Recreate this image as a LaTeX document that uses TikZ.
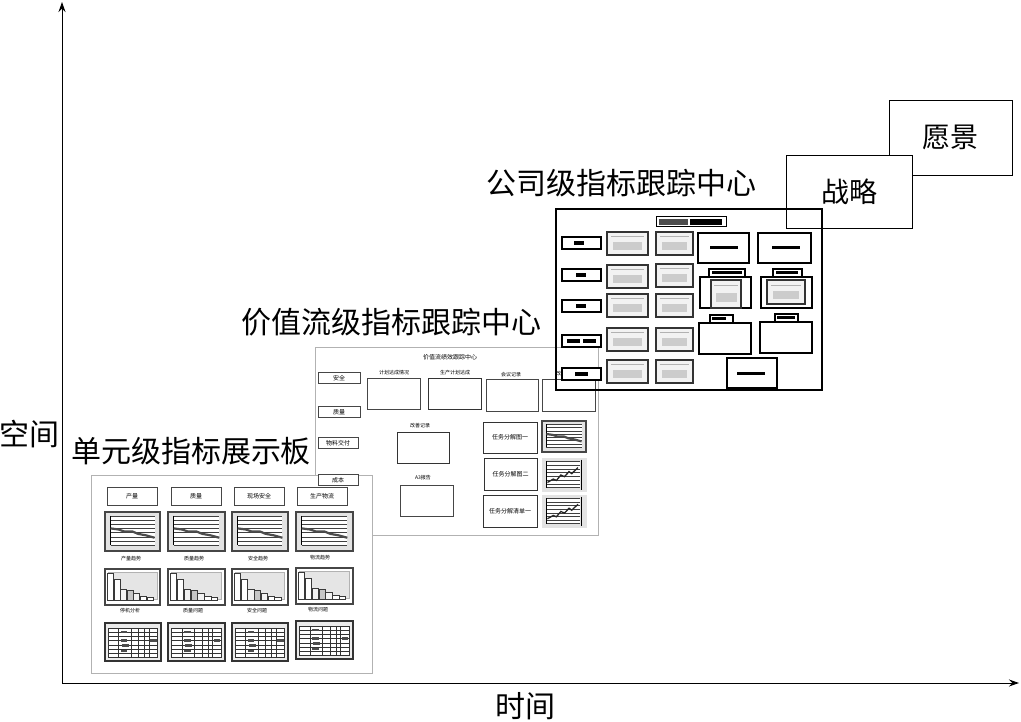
\documentclass[tikz,border=0pt]{standalone}
\usepackage{fontspec}
\newfontfamily\cjk{Noto Sans CJK SC}
\usetikzlibrary{arrows.meta}
\newcommand\lchart[4]{%
 \fill[gray!22] (#1,#2) rectangle ++(#3,#4);
 \draw[gray!55!black,line width=1.1pt] (#1,#2) rectangle ++(#3,#4);
 \fill[white] ({#1+0.1*#3},{#2+0.1*#4}) rectangle ({#1+0.9*#3},{#2+0.85*#4});
 \foreach \k in {0,...,7}{\draw[black!75,line width=0.45pt] ({#1+0.1*#3},{#2+0.1*#4+\k*0.107*#4}) -- ({#1+0.9*#3},{#2+0.1*#4+\k*0.107*#4});}
 \draw[black,line width=0.5pt] ({#1+0.1*#3},{#2+0.1*#4}) -- ({#1+0.1*#3},{#2+0.85*#4});
 \draw[gray!60!black,line width=2.2pt] ({#1+0.1*#3},{#2+0.42*#4}) -- ({#1+0.25*#3},{#2+0.45*#4}) -- ({#1+0.35*#3},{#2+0.5*#4}) -- ({#1+0.5*#3},{#2+0.5*#4}) -- ({#1+0.6*#3},{#2+0.56*#4}) -- ({#1+0.75*#3},{#2+0.6*#4}) -- ({#1+0.9*#3},{#2+0.66*#4});
}
\newcommand\rchart[4]{%
 \fill[gray!22] (#1,#2) rectangle ++(#3,#4);
 \fill[white] ({#1+0.1*#3},{#2+0.1*#4}) rectangle ({#1+0.85*#3},{#2+0.88*#4});
 \foreach \k in {0,...,7}{\draw[black!75,line width=0.45pt] ({#1+0.1*#3},{#2+0.1*#4+\k*0.11*#4}) -- ({#1+0.85*#3},{#2+0.1*#4+\k*0.11*#4});}
 \draw[black,line width=0.5pt] ({#1+0.1*#3},{#2+0.1*#4}) -- ({#1+0.1*#3},{#2+0.88*#4});
 \draw[black,line width=0.5pt] ({#1+0.88*#3},{#2+0.05*#4}) -- ({#1+0.88*#3},{#2+0.95*#4});
 \draw[gray!30!black,line width=1.3pt] ({#1+0.12*#3},{#2+0.72*#4}) -- ({#1+0.25*#3},{#2+0.62*#4}) -- ({#1+0.32*#3},{#2+0.66*#4}) -- ({#1+0.42*#3},{#2+0.5*#4}) -- ({#1+0.5*#3},{#2+0.55*#4}) -- ({#1+0.6*#3},{#2+0.4*#4}) -- ({#1+0.66*#3},{#2+0.46*#4}) -- ({#1+0.8*#3},{#2+0.28*#4});
}
\newcommand\bchart[4]{%
 \draw[gray!55!black,line width=1.1pt,fill=white] (#1,#2) rectangle ++(#3,#4);
 \filldraw[fill=gray!20,draw=gray!60,line width=0.4pt] ({#1+0.06*#3},{#2+0.1*#4}) rectangle ({#1+0.94*#3},{#2+0.85*#4});
 \foreach \i/\hh/\cc in {0/0.75/white,1/0.6/white,2/0.33/gray!10,3/0.28/gray!45,4/0.22/gray!10,5/0.12/white,6/0.09/white}{%
  \filldraw[draw=gray!45!black,line width=0.4pt,fill=\cc] ({#1+(0.04+\i*0.12)*#3},{#2+0.88*#4}) rectangle ++({0.11*#3},{-\hh*#4});}
}
\newcommand\tchart[4]{%
 \draw[gray!40!black,line width=1.2pt,fill=gray!15] (#1,#2) rectangle ++(#3,#4);
 \fill[white] ({#1+0.06*#3},{#2+0.14*#4}) rectangle ({#1+0.94*#3},{#2+0.9*#4});
 \foreach \k in {0,...,7}{\draw[black!80,line width=0.35pt] ({#1+0.06*#3},{#2+0.14*#4+\k*0.108*#4}) -- ({#1+0.94*#3},{#2+0.14*#4+\k*0.108*#4});}
 \foreach \f in {0.06,0.24,0.46,0.6,0.7,0.78,0.94}{\draw[black!80,line width=0.35pt] ({#1+\f*#3},{#2+0.14*#4}) -- ({#1+\f*#3},{#2+0.9*#4});}
 \foreach \f/\g in {0.28/0.2,0.28/0.42,0.3/0.55,0.28/0.7,0.8/0.42}{\fill[black!70] ({#1+\f*#3},{#2+\g*#4}) rectangle ++({0.12*#3},{0.07*#4});}
}
\newcommand\cthumb[4]{%
 \draw[gray!40!black,line width=1.3pt,fill=gray!10] (#1,#2) rectangle ++(#3,#4);
 \fill[gray!40] ({#1+0.15*#3},{#2+0.45*#4}) rectangle ({#1+0.85*#3},{#2+0.8*#4});
 \draw[gray!60,line width=0.4pt] ({#1+0.1*#3},{#2+0.2*#4}) -- ({#1+0.9*#3},{#2+0.2*#4});
}
\newcommand\blk[4]{\fill[black] (#1,#2) rectangle ++(#3,#4);}
\begin{document}
\begin{tikzpicture}[x=1pt,y=-1pt,
  big/.style={font=\cjk\fontsize{30}{32}\selectfont,inner sep=0pt},
  tiny/.style={font=\cjk\fontsize{5}{6}\selectfont,inner sep=0pt},
  gbox/.style={draw=gray!55!black,line width=0.6pt,fill=white,inner sep=0pt,font=\cjk\fontsize{6}{7}\selectfont},
  gpanel/.style={draw=gray!60,line width=0.7pt,fill=white},
  kbox/.style={draw=black,line width=1.3pt,fill=white,inner sep=0pt},
  lbox/.style={draw=black,line width=0.9pt,fill=white,inner sep=0pt,font=\cjk\fontsize{28}{30}\selectfont},
  axis/.style={line width=1pt,-{Stealth[length=10pt,width=7pt]}}]
\useasboundingbox (0,0) rectangle (1021,722);
% axes
\coordinate (O) at (62,683);
\coordinate (Ytop) at (62,2);
\coordinate (Xend) at (1019,683);
\draw[axis] (O) -- (Ytop);
\draw[axis] (O) -- (Xend);
\node[big] (ylab) at (29,434) {空间};
\node[big] (xlab) at (525,706) {时间};
% ---------- value stream panel ----------
\draw[gpanel] (315,347) rectangle (598,535);
\node[tiny,font=\cjk\fontsize{6}{7}\selectfont] (vtitle) at (450,357) {价值流绩效跟踪中心};
\node[gbox,minimum width=42pt,minimum height=11pt] (v1) at (339,378) {安全};
\node[gbox,minimum width=42pt,minimum height=11pt] (v2) at (339,412) {质量};
\node[gbox,minimum width=40pt,minimum height=11pt] (v3) at (338,443) {物料交付};
\node[tiny] (t1) at (394,373) {计划达成情况};
\node[tiny] (t2) at (455,373) {生产计划达成};
\node[tiny] (t3) at (511,375) {会议记录};
\node[tiny] (t4) at (566,374) {改善计划};
\draw[gray!55!black,line width=0.6pt] (367,378) rectangle (420,409);
\draw[gray!40!black,line width=0.8pt] (428,378) rectangle (481,409);
\draw[gray!55!black,line width=0.6pt] (486,379) rectangle (538,411);
\draw[gray!55!black,line width=0.6pt] (542,379) rectangle (595,411);
\node[tiny] (t5) at (420,426) {改善记录};
\draw[gray!40!black,line width=0.7pt] (397,432) rectangle (449,463);
\node[tiny] (t6) at (423,478) {A3报告};
\draw[gray!55!black,line width=0.6pt] (400,485) rectangle (453,516);
\node[gbox,draw=gray!40!black,minimum width=54pt,minimum height=31pt] (r1) at (510,437.5) {任务分解图一};
\node[gbox,draw=gray!40!black,minimum width=53pt,minimum height=32pt] (r2) at (510.5,474) {任务分解图二};
\node[gbox,draw=gray!40!black,minimum width=54pt,minimum height=32pt] (r3) at (510,511) {任务分解清单一};
\lchart{542}{421}{44}{31}
\rchart{542}{458}{45}{34}
\rchart{542}{495}{45}{33}
% ---------- unit panel ----------
\draw[gpanel] (91,475) rectangle (372,673);
\node[gbox,minimum width=50pt,minimum height=18pt] (u1) at (132,496) {产量};
\node[gbox,minimum width=50pt,minimum height=18pt] (u2) at (196,496) {质量};
\node[gbox,minimum width=50pt,minimum height=18pt] (u3) at (259,496) {现场安全};
\node[gbox,minimum width=50pt,minimum height=18pt] (u4) at (322,496) {生产物流};
\node[gbox,minimum width=40pt,minimum height=11pt] (v4) at (338,480) {成本};
\lchart{105}{512}{55}{39}
\lchart{168}{512}{57}{39}
\lchart{232}{512}{56}{39}
\lchart{296}{512}{57}{39}
\node[tiny] (c1) at (131,559) {产量趋势};
\node[tiny] (c2) at (194,559) {质量趋势};
\node[tiny] (c3) at (258,559) {安全趋势};
\node[tiny] (c4) at (320,558) {物流趋势};
\bchart{105}{569}{55}{36}
\bchart{168}{569}{57}{36}
\bchart{232}{569}{56}{36}
\bchart{296}{568}{57}{36}
\node[tiny] (d1) at (130,611) {停机分析};
\node[tiny] (d2) at (193,611) {质量问题};
\node[tiny] (d3) at (257,611) {安全问题};
\node[tiny] (d4) at (318,610) {物流问题};
\tchart{105}{623}{56}{38}
\tchart{168}{623}{57}{38}
\tchart{232}{623}{56}{38}
\tchart{296}{621}{57}{38}
% ---------- big labels ----------
\node[big] (lu) at (191,451) {单元级指标展示板};
\node[big] (lv) at (391,322) {价值流级指标跟踪中心};
\node[big] (lc) at (621,183) {公司级指标跟踪中心};
% ---------- vision / strategy ----------
\node[lbox,minimum width=123pt,minimum height=75pt] (vision) at (950.5,137.5) {愿景};
\node[lbox,minimum width=126pt,minimum height=73pt] (strat) at (849,191.5) {战略};
% ---------- company panel ----------
\draw[black,line width=1.3pt] (556,209) rectangle (822,390);
\node[kbox,line width=1pt,minimum width=70pt,minimum height=10pt] (ctitle) at (691,222) {};
\fill[gray!60!black] (659,219) rectangle (688,225);
\blk{690}{219}{32}{6}
\foreach \yy/\nm in {243/k1,275/k2,306/k3,341/k4,374/k5}{\node[kbox,minimum width=39pt,minimum height=12pt] (\nm) at (581.5,\yy) {};}
\blk{574}{241}{10}{4}
\blk{576}{273}{10}{4}
\blk{576}{304}{10}{4}
\blk{567}{339}{13}{4}
\blk{583}{339}{13}{4}
\blk{575}{372}{13}{4}
\foreach \yy in {232,265,294,328,360}{\cthumb{607}{\yy}{41}{23}}
\foreach \yy in {232,264,294,328,360}{\cthumb{656}{\yy}{37}{23}}
\node[kbox,minimum width=51pt,minimum height=30pt] (b1) at (723.5,248) {};
\blk{710}{246}{28}{3}
\node[kbox,minimum width=53pt,minimum height=30pt] (b2) at (784.5,248) {};
\blk{772}{246}{28}{3}
\node[kbox,minimum width=51pt,minimum height=31pt] (b3) at (725.5,292.5) {};
\cthumb{711}{280}{30}{28}
\node[kbox,minimum width=36pt,minimum height=8pt] (b3t) at (727,273) {};
\blk{712}{271}{30}{3}
\node[kbox,minimum width=51pt,minimum height=31pt] (b4) at (786.5,292.5) {};
\cthumb{767}{280}{38}{24}
\node[kbox,minimum width=29pt,minimum height=8pt] (b4t) at (787.5,273) {};
\blk{776}{271}{22}{3}
\node[kbox,minimum width=52pt,minimum height=31pt] (b5) at (725,338.5) {};
\node[kbox,minimum width=23pt,minimum height=8pt] (b5t) at (721.5,319) {};
\blk{712}{317}{14}{3}
\node[kbox,minimum width=52pt,minimum height=31pt] (b6) at (786,337.5) {};
\node[kbox,minimum width=23pt,minimum height=8pt] (b6t) at (786.5,318) {};
\blk{777}{316}{18}{3}
\node[kbox,minimum width=50pt,minimum height=30pt] (b7) at (752,373) {};
\blk{737}{372}{28}{3}
\end{tikzpicture}
\end{document}
